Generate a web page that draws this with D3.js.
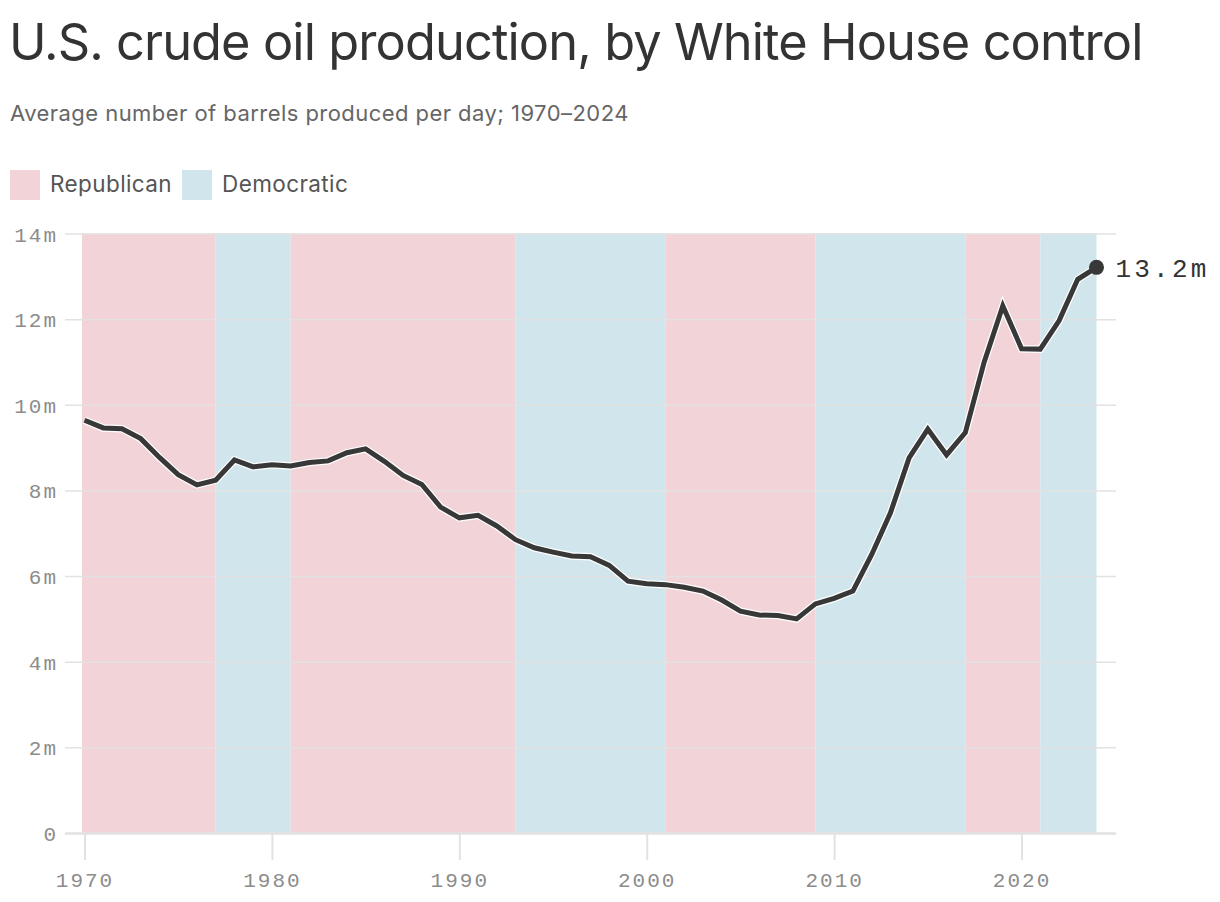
<!DOCTYPE html>
<html>
<head>
<meta charset="utf-8">
<script src="https://cdn.jsdelivr.net/npm/d3@7"></script>
<style>
  html, body { margin: 0; padding: 0; background: #fff; }
  svg { display: block; }
</style>
</head>
<body>
<svg id="chart" width="1220" height="902"></svg>
<script>
// ---- Data ----
const years = [1970,1971,1972,1973,1974,1975,1976,1977,1978,1979,
  1980,1981,1982,1983,1984,1985,1986,1987,1988,1989,
  1990,1991,1992,1993,1994,1995,1996,1997,1998,1999,
  2000,2001,2002,2003,2004,2005,2006,2007,2008,2009,
  2010,2011,2012,2013,2014,2015,2016,2017,2018,2019,
  2020,2021,2022,2023,2024];
const production = [9.64,9.46,9.44,9.21,8.77,8.37,8.13,8.24,8.71,8.55,
  8.60,8.57,8.65,8.69,8.88,8.97,8.68,8.35,8.14,7.61,
  7.36,7.42,7.17,6.85,6.66,6.56,6.47,6.45,6.25,5.88,
  5.82,5.80,5.74,5.65,5.44,5.18,5.09,5.08,5.00,5.35,
  5.48,5.65,6.50,7.47,8.76,9.43,8.83,9.35,10.99,12.31,
  11.31,11.30,11.96,12.93,13.21];
const termStarts = [1970,1977,1981,1993,2001,2009,2017,2021];
const termEnds   = [1977,1981,1993,2001,2009,2017,2021,2024];
const termParty  = ["Republican","Democratic","Republican","Democratic","Republican","Democratic","Republican","Democratic"];
const parties = ["Republican","Democratic"];
const partyColors = ["#f2d3d7","#d1e5ec"];
const yTicks = [0,2,4,6,8,10,12,14];
const xTicks = [1970,1980,1990,2000,2010,2020];
const titleText = "U.S. crude oil production, by White House control";
const subtitleText = "Average number of barrels produced per day; 1970\u20132024";

// ---- Setup ----
const svg = d3.select("#chart");
const x = d3.scaleLinear().domain([1970, 2024]).range([84.5, 1096.5]);
const y = d3.scaleLinear().domain([0, 14]).range([833, 233.5]);
const color = d3.scaleOrdinal().domain(parties).range(partyColors);
const sans = "Inter, 'Noto Sans', sans-serif";
const mono = "'Liberation Mono', 'DejaVu Sans Mono', monospace";

// Title & subtitle
svg.append("text").attr("x", 9).attr("y", 60)
  .attr("font-family", sans).attr("font-size", 50.5).attr("letter-spacing", -0.9)
  .attr("fill", "#333").text(titleText);
svg.append("text").attr("x", 10).attr("y", 121)
  .attr("font-family", sans).attr("font-size", 22).attr("letter-spacing", 0.45)
  .attr("fill", "#666").text(subtitleText);

// Legend
const legend = svg.append("g");
let lx = 10;
parties.forEach(p => {
  legend.append("rect").attr("x", lx).attr("y", 170).attr("width", 30).attr("height", 30)
    .attr("fill", color(p));
  const t = legend.append("text").attr("x", lx + 40).attr("y", 192)
    .attr("font-family", sans).attr("font-size", 22.5).attr("letter-spacing", 0.4)
    .attr("fill", "#555").text(p);
  lx += 40 + t.node().getComputedTextLength() + 10;
});

// Bands
const terms = termStarts.map((s, i) => ({start: s, end: termEnds[i], party: termParty[i]}));
svg.append("g").selectAll("rect").data(terms).join("rect")
  .attr("x", d => x(d.start) - (d.start === 1970 ? 2.5 : 0))
  .attr("y", y(14))
  .attr("width", d => x(d.end) - x(d.start) + (d.start === 1970 ? 2.5 : 0))
  .attr("height", y(0) - y(14))
  .attr("fill", d => color(d.party));

// Gridlines & y axis
const yAxis = d3.axisLeft(y).tickValues(yTicks)
  .tickSize(-(1116 - 65))
  .tickFormat(d => d === 0 ? "0" : d + "m");
const yg = svg.append("g").attr("transform", "translate(65,0)").call(yAxis);
yg.select(".domain").remove();
yg.selectAll(".tick line").attr("stroke", "#e2e2e2").attr("stroke-width", d => d === 0 ? 2.5 : 1.5);
yg.selectAll(".tick text").attr("x", -7).attr("dy", "0.36em")
  .attr("font-family", mono).attr("font-size", 21).attr("letter-spacing", 2)
  .attr("fill", "#8c8c8c");

// X axis
const xAxis = d3.axisBottom(x).tickValues(xTicks).tickSize(26).tickPadding(7).tickFormat(d3.format("d"));
const xg = svg.append("g").attr("transform", `translate(0,${y(0) + 1})`).call(xAxis);
xg.select(".domain").remove();
xg.selectAll(".tick line").attr("stroke", "#e2e2e2").attr("stroke-width", 2);
xg.selectAll(".tick text").attr("font-family", mono).attr("font-size", 21)
  .attr("letter-spacing", 2).attr("fill", "#8c8c8c").attr("dy", "0.95em");

// Line
const data = years.map((yr, i) => ({year: yr, value: production[i]}));
const line = d3.line().x(d => x(d.year)).y(d => y(d.value));
svg.append("path").datum(data).attr("d", line)
  .attr("fill", "none").attr("stroke", "#fff").attr("stroke-width", 7.5)
  .attr("stroke-linejoin", "miter");
svg.append("path").datum(data).attr("d", line)
  .attr("fill", "none").attr("stroke", "#383838").attr("stroke-width", 5)
  .attr("stroke-linejoin", "miter");

// End point & label
const last = data[data.length - 1];
svg.append("circle").attr("cx", x(last.year)).attr("cy", y(last.value)).attr("r", 7.5)
  .attr("fill", "#383838");
svg.append("text").attr("x", x(last.year) + 19).attr("y", y(last.value)).attr("dy", "0.36em")
  .attr("font-family", mono).attr("font-size", 26).attr("letter-spacing", 3.2)
  .attr("fill", "#333").text(d3.format(".1f")(last.value) + "m");
</script>
</body>
</html>
